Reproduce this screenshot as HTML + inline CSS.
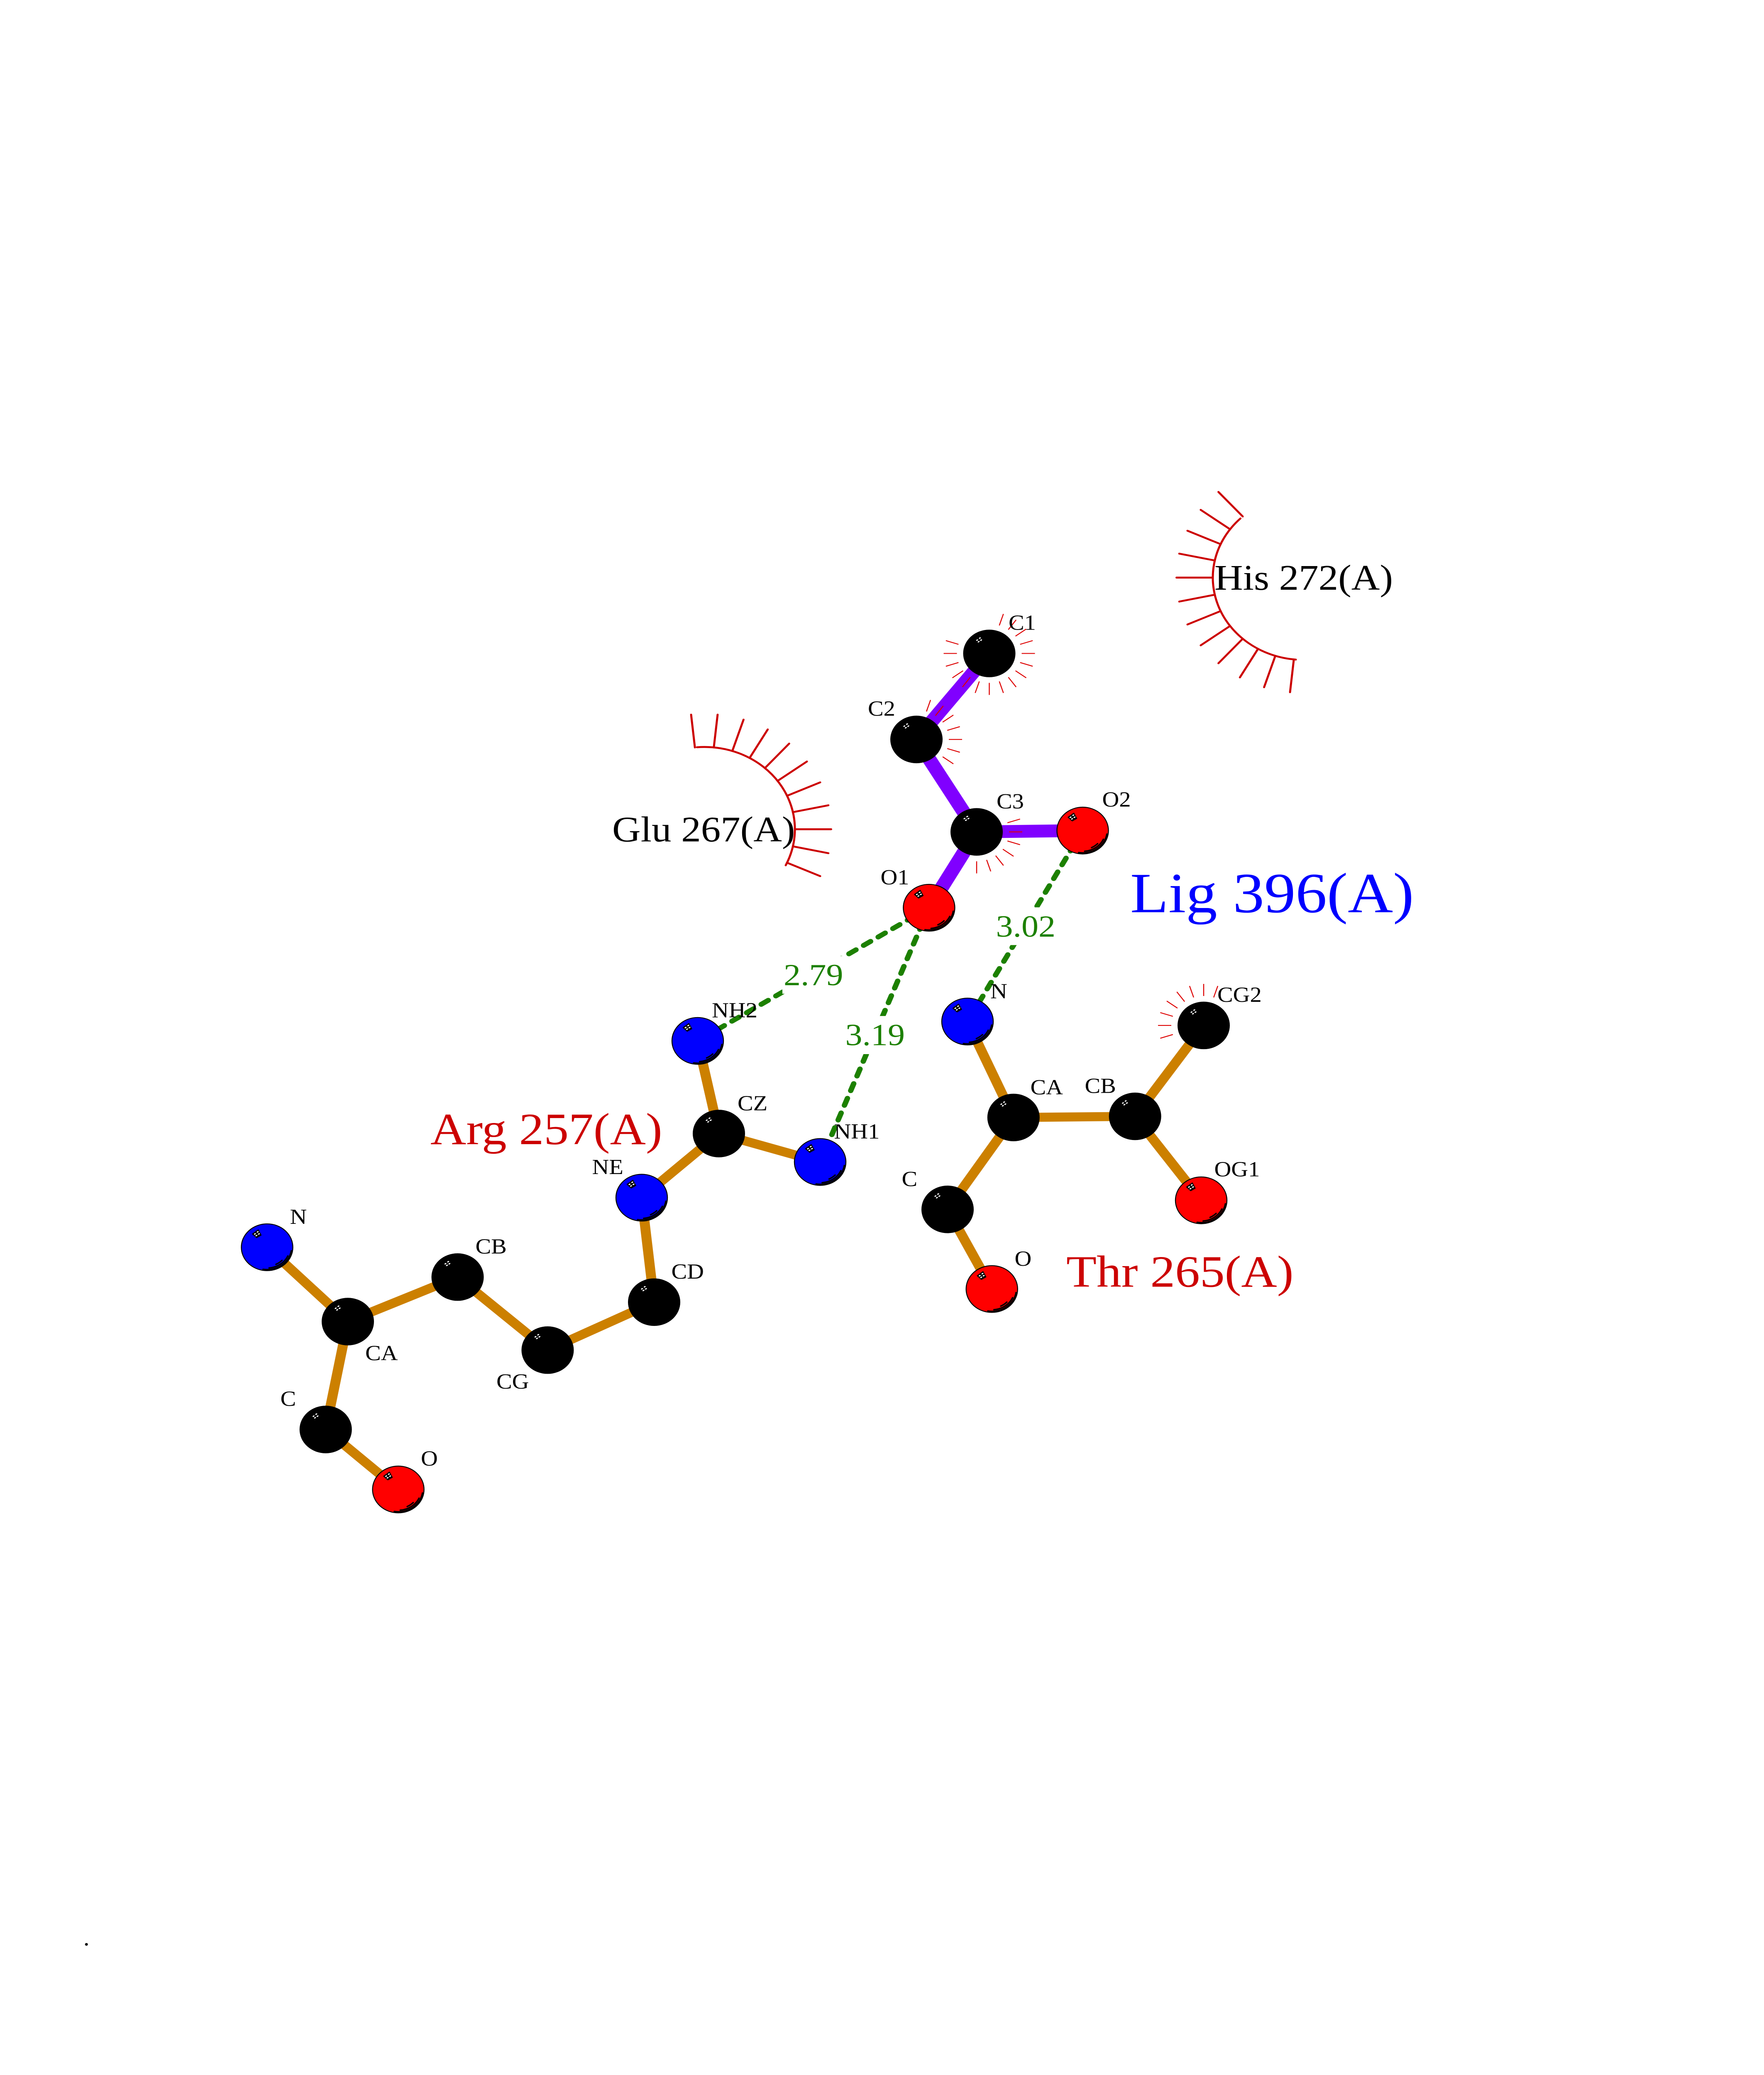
<!DOCTYPE html>
<html>
<head>
<meta charset="utf-8">
<title>Ligand interaction diagram</title>
<style>
html,body{margin:0;padding:0;background:#fff;width:100%;height:100%;overflow:hidden}
svg{display:block;position:absolute;left:0;top:0;width:100vw;height:100vh}
text{font-family:"Liberation Serif",serif}
.l{font-size:56.5px;fill:#000}
.d{font-size:82px;fill:#1c8000}
.r{font-size:119.5px;fill:#cc0000}
.h{font-size:95px;fill:#000}
.b{stroke:#cc8000;stroke-width:24;fill:none}
.p{stroke:#8000ff;stroke-width:34;fill:none}
.g{stroke:#1c8000;stroke-width:13;stroke-linecap:round;stroke-dasharray:20 21.7;fill:none}
.a{stroke:#cc0000;stroke-width:5;stroke-linecap:round;fill:none}
.s{stroke:#dd0000;stroke-width:2.4;fill:none}
</style>
</head>
<body>
<svg xmlns="http://www.w3.org/2000/svg" viewBox="0 0 4250 5500" preserveAspectRatio="none">
<defs>
<g id="dots" fill="#fff">
<ellipse cx="-29.3" cy="-35.3" rx="2.6" ry="1.6" transform="rotate(-30 -29.3 -35.3)"/>
<ellipse cx="-22.7" cy="-40.7" rx="2.6" ry="1.6" transform="rotate(-30 -22.7 -40.7)"/>
<ellipse cx="-19.7" cy="-35.3" rx="2.6" ry="1.6" transform="rotate(-30 -19.7 -35.3)"/>
<ellipse cx="-25.7" cy="-31" rx="2.6" ry="1.6" transform="rotate(-30 -25.7 -31)"/>
</g>
<g id="k"><circle r="63" fill="#000"/><use href="#dots"/></g>
<g id="shine">
<polygon points="-35.7,-35.3 -21.3,-46.7 -14,-32 -25.3,-25" fill="#000" stroke="#000" stroke-width="1.5" stroke-linejoin="round"/>
<use href="#dots"/>
<g fill="none" stroke="#000" stroke-width="3.6" stroke-linecap="round">
<path d="M58.3 9.2A59 59 0 0 1 -9.7 58.2"/>
<path d="M50 22.9A55 55 0 0 1 4.8 54.8"/>
<path d="M36 34.7A50 50 0 0 1 21.4 45.2"/>
</g>
</g>
<g id="o"><circle r="62" fill="#ff0000" stroke="#000" stroke-width="2.4"/><use href="#shine"/></g>
<g id="n"><circle r="62" fill="#0000ff" stroke="#000" stroke-width="2.4"/><use href="#shine"/></g>
<line id="sp" x1="78" y1="0" x2="110" y2="0"/>
<line id="ah" x1="-218" y1="0" x2="-305.5" y2="0"/>
<line id="ag" x1="218" y1="0" x2="305.5" y2="0"/>
</defs>

<!-- hydrogen bonds -->
<line class="g" x1="2238.4" y1="2406" x2="1681" y2="2759"/>
<line class="g" x1="2238.4" y1="2406" x2="1976" y2="3080"/>
<line class="g" x1="2608.5" y1="2201.5" x2="2331" y2="2707.7"/>
<rect x="1885" y="2534" width="150" height="100" fill="#fff"/>
<rect x="2033" y="2693" width="153" height="101" fill="#fff"/>
<rect x="2396" y="2405" width="150" height="100" fill="#fff"/>

<!-- Arg bonds -->
<g class="b">
<line x1="643.5" y1="3306" x2="838" y2="3503"/>
<line x1="838" y1="3503" x2="1102.5" y2="3385"/>
<line x1="1102.5" y1="3385" x2="1319.4" y2="3578.6"/>
<line x1="1319.4" y1="3578.6" x2="1576" y2="3451.5"/>
<line x1="1576" y1="3451.5" x2="1546" y2="3174.5"/>
<line x1="1546" y1="3174.5" x2="1732" y2="3004.6"/>
<line x1="1732" y1="3004.6" x2="1976" y2="3080"/>
<line x1="1732" y1="3004.6" x2="1681" y2="2759"/>
<line x1="838" y1="3503" x2="784.7" y2="3789"/>
<line x1="784.7" y1="3789" x2="959.6" y2="3948"/>
<!-- Thr bonds -->
<line x1="2331" y1="2707.7" x2="2441.8" y2="2962"/>
<line x1="2441.8" y1="2962" x2="2734.7" y2="2959"/>
<line x1="2734.7" y1="2959" x2="2900" y2="2718"/>
<line x1="2734.7" y1="2959" x2="2894" y2="3181.6"/>
<line x1="2441.8" y1="2962" x2="2283" y2="3205.6"/>
<line x1="2283" y1="3205.6" x2="2389.7" y2="3416.7"/>
</g>
<!-- Ligand bonds -->
<g class="p">
<line x1="2383.5" y1="1732" x2="2208" y2="1960"/>
<line x1="2208" y1="1960" x2="2353" y2="2205"/>
<line x1="2353" y1="2205" x2="2238.4" y2="2406"/>
<line x1="2353" y1="2205" x2="2608.5" y2="2201.5"/>
</g>

<!-- atoms -->
<use href="#k" x="2383.5" y="1732"/>
<use href="#k" x="2208" y="1960"/>
<use href="#k" x="2353" y="2205"/>
<use href="#o" x="2608.5" y="2201.5"/>
<use href="#o" x="2238.4" y="2406"/>
<use href="#n" x="2331" y="2707.7"/>
<use href="#k" x="2900" y="2718"/>
<use href="#k" x="2441.8" y="2962"/>
<use href="#k" x="2734.7" y="2959"/>
<use href="#o" x="2894" y="3181.6"/>
<use href="#k" x="2283" y="3205.6"/>
<use href="#o" x="2389.7" y="3416.7"/>
<use href="#n" x="1681" y="2759"/>
<use href="#k" x="1732" y="3004.6"/>
<use href="#n" x="1976" y="3080"/>
<use href="#n" x="1546" y="3174.5"/>
<use href="#k" x="1576" y="3451.5"/>
<use href="#k" x="1319.4" y="3578.6"/>
<use href="#k" x="1102.5" y="3385"/>
<use href="#k" x="838" y="3503"/>
<use href="#n" x="643.5" y="3306"/>
<use href="#k" x="784.7" y="3789"/>
<use href="#o" x="959.6" y="3948"/>

<!-- small contact spikes -->
<g class="s" transform="translate(2383.5 1732)">
<use href="#sp" transform="rotate(-72)"/><use href="#sp" transform="rotate(-54)"/><use href="#sp" transform="rotate(-36)"/><use href="#sp" transform="rotate(-18)"/><use href="#sp"/><use href="#sp" transform="rotate(18)"/><use href="#sp" transform="rotate(36)"/><use href="#sp" transform="rotate(54)"/><use href="#sp" transform="rotate(72)"/><use href="#sp" transform="rotate(90)"/><use href="#sp" transform="rotate(108)"/><use href="#sp" transform="rotate(126)"/><use href="#sp" transform="rotate(144)"/><use href="#sp" transform="rotate(162)"/><use href="#sp" transform="rotate(180)"/><use href="#sp" transform="rotate(198)"/>
</g>
<g class="s" transform="translate(2208 1960)">
<use href="#sp" transform="rotate(-72)"/><use href="#sp" transform="rotate(-54)"/><use href="#sp" transform="rotate(-36)"/><use href="#sp" transform="rotate(-18)"/><use href="#sp"/><use href="#sp" transform="rotate(18)"/><use href="#sp" transform="rotate(36)"/>
</g>
<g class="s" transform="translate(2353 2205)">
<use href="#sp" transform="rotate(-18)"/><use href="#sp"/><use href="#sp" transform="rotate(18)"/><use href="#sp" transform="rotate(36)"/><use href="#sp" transform="rotate(54)"/><use href="#sp" transform="rotate(72)"/><use href="#sp" transform="rotate(90)"/>
</g>
<g class="s" transform="translate(2900 2718)">
<use href="#sp" transform="rotate(-72)"/><use href="#sp" transform="rotate(-90)"/><use href="#sp" transform="rotate(-108)"/><use href="#sp" transform="rotate(-126)"/><use href="#sp" transform="rotate(-144)"/><use href="#sp" transform="rotate(-162)"/><use href="#sp" transform="rotate(-180)"/><use href="#sp" transform="rotate(-198)"/>
</g>

<!-- hydrophobic arcs -->
<path class="a" d="M2988.6 1374.2A218 218 0 0 0 3122.1 1748.3"/>
<g class="a" transform="translate(3140 1531)">
<use href="#ah" transform="rotate(48)"/><use href="#ah" transform="rotate(36)"/><use href="#ah" transform="rotate(24)"/><use href="#ah" transform="rotate(12)"/><use href="#ah"/><use href="#ah" transform="rotate(-12)"/><use href="#ah" transform="rotate(-24)"/><use href="#ah" transform="rotate(-36)"/><use href="#ah" transform="rotate(-48)"/><use href="#ah" transform="rotate(-60)"/><use href="#ah" transform="rotate(-72)"/><use href="#ah" transform="rotate(-84)"/>
</g>
<path class="a" d="M1679.1 1980.7A218 218 0 0 1 1893 2293.6"/>
<g class="a" transform="translate(1697 2198)">
<use href="#ag" transform="rotate(24)"/><use href="#ag" transform="rotate(12)"/><use href="#ag"/><use href="#ag" transform="rotate(-12)"/><use href="#ag" transform="rotate(-24)"/><use href="#ag" transform="rotate(-36)"/><use href="#ag" transform="rotate(-48)"/><use href="#ag" transform="rotate(-60)"/><use href="#ag" transform="rotate(-72)"/><use href="#ag" transform="rotate(-84)"/><use href="#ag" transform="rotate(-96)"/>
</g>

<!-- atom labels -->
<text class="l" x="2430" y="1669.4">C1</text>
<text class="l" x="2091" y="1897">C2</text>
<text class="l" x="2401" y="2143">C3</text>
<text class="l" x="2655.5" y="2138">O2</text>
<text class="l" x="2121.5" y="2344">O1</text>
<text class="l" x="2386" y="2646">N</text>
<text class="l" x="2482.5" y="2900.5">CA</text>
<text class="l" x="2613.5" y="2897">CB</text>
<text class="l" x="2933" y="2655.6">CG2</text>
<text class="l" x="2925.5" y="3118">OG1</text>
<text class="l" x="2172.5" y="3144">C</text>
<text class="l" x="2444.5" y="3355">O</text>
<text class="l" x="1715" y="2696.4">NH2</text>
<text class="l" x="1777" y="2943">CZ</text>
<text class="l" x="2009.5" y="3018">NH1</text>
<text class="l" x="1426.5" y="3111.7">NE</text>
<text class="l" x="1145.5" y="3322.4">CB</text>
<text class="l" x="1617.5" y="3389">CD</text>
<text class="l" x="1196" y="3680.6">CG</text>
<text class="l" x="698.5" y="3244">N</text>
<text class="l" x="880" y="3605">CA</text>
<text class="l" x="675.5" y="3726.5">C</text>
<text class="l" x="1014" y="3884.7">O</text>

<!-- distances -->
<text class="d" x="1888" y="2611.6">2.79</text>
<text class="d" x="2036.5" y="2770.5">3.19</text>
<text class="d" x="2399.5" y="2482.7">3.02</text>

<!-- residue labels -->
<text class="h" x="2926" y="1563">His 272(A)</text>
<text class="h" x="1475" y="2230">Glu 267(A)</text>
<text x="2723" y="2418" font-size="151" fill="#0000ff">Lig 396(A)</text>
<text class="r" x="1037" y="3032.6">Arg 257(A)</text>
<text class="r" x="2569" y="3410.7">Thr 265(A)</text>

<text x="200.8" y="5156" font-size="60" fill="#000">.</text>
</svg>
</body>
</html>
